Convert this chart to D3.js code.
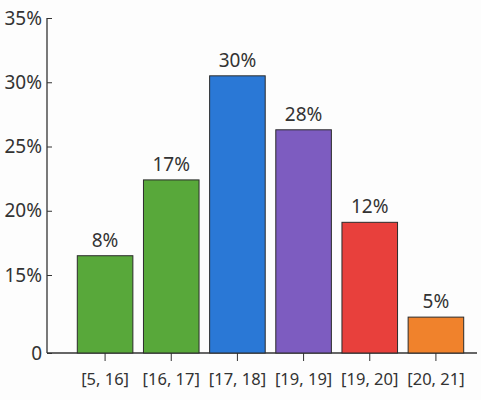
<!DOCTYPE html>
<html lang="en">
<head>
    <meta charset="utf-8">
    <title>Distribution</title>
    <script src="https://cdn.jsdelivr.net/npm/d3@7/dist/d3.min.js"></script>
    <style type="text/css">
        body { margin: 0; background: #fdfdfd; }
        text { font-family: "Noto Sans", "Open Sans", sans-serif; fill: #333; }
        .bar { stroke: #2b2b2b; stroke-width: 1; }
    </style>
</head>
<body>
<div id="chart"></div>
<script>
// categories, plotted heights, printed labels
const categories = ["[5, 16]", "[16, 17]", "[17, 18]", "[19, 19]", "[19, 20]", "[20, 21]"];
const values = [16.5, 22.4, 30.5, 26.3, 19.1, 6.9];
const labels = ["8%", "17%", "30%", "28%", "12%", "5%"];
const colors = ["#58a83a", "#58a83a", "#2a78d6", "#7d5cc0", "#e8403c", "#f0822c"];
const yTicks = [0, 15, 20, 25, 30, 35];

const width = 481, height = 400;

const svg = d3.select("#chart").append("svg")
    .attr("width", width)
    .attr("height", height);

const x = d3.scaleBand()
    .domain(categories)
    .range([72, 469])
    .paddingInner(0.16)
    .paddingOuter(0.08);

// axis is broken between 0 and 15%
const y = d3.scaleLinear()
    .domain([0, 15, 35])
    .range([353, 275, 18]);

svg.append("g")
    .attr("transform", "translate(47,0)")
    .call(d3.axisRight(y).tickValues(yTicks).tickSize(5).tickFormat(d => d === 0 ? "0" : d + "%"))
    .call(g => g.select(".domain").attr("stroke", "#333").attr("stroke-width", 1.3).attr("d", "M0," + y(35) + "V" + y(0)))
    .call(g => g.selectAll(".tick line").attr("stroke", "#333"))
    .call(g => g.selectAll(".tick text")
        .attr("x", -5)
        .attr("text-anchor", "end")
        .style("font-size", "19px"));

svg.append("g")
    .attr("transform", "translate(0," + y(0) + ")")
    .call(d3.axisBottom(x).tickSize(8).tickSizeOuter(0))
    .call(g => g.select(".domain").attr("stroke", "#333").attr("stroke-width", 1.3).attr("d", "M47,0H477"))
    .call(g => g.selectAll(".tick line").attr("stroke", "#333"))
    .call(g => g.selectAll(".tick text")
        .attr("y", 20)
        .attr("dy", "0.71em")
        .style("font-size", "16.5px"));

svg.selectAll(".bar")
    .data(values)
    .enter().append("rect")
    .attr("class", "bar")
    .attr("x", (d, i) => x(categories[i]))
    .attr("width", x.bandwidth())
    .attr("y", d => y(d))
    .attr("height", d => y(0) - y(d))
    .attr("fill", (d, i) => colors[i]);

svg.selectAll(".label")
    .data(values)
    .enter().append("text")
    .attr("class", "label")
    .attr("x", (d, i) => x(categories[i]) + x.bandwidth() / 2)
    .attr("y", d => y(d) - 9)
    .attr("text-anchor", "middle")
    .style("font-size", "19px")
    .text((d, i) => labels[i]);
</script>
</body>
</html>
